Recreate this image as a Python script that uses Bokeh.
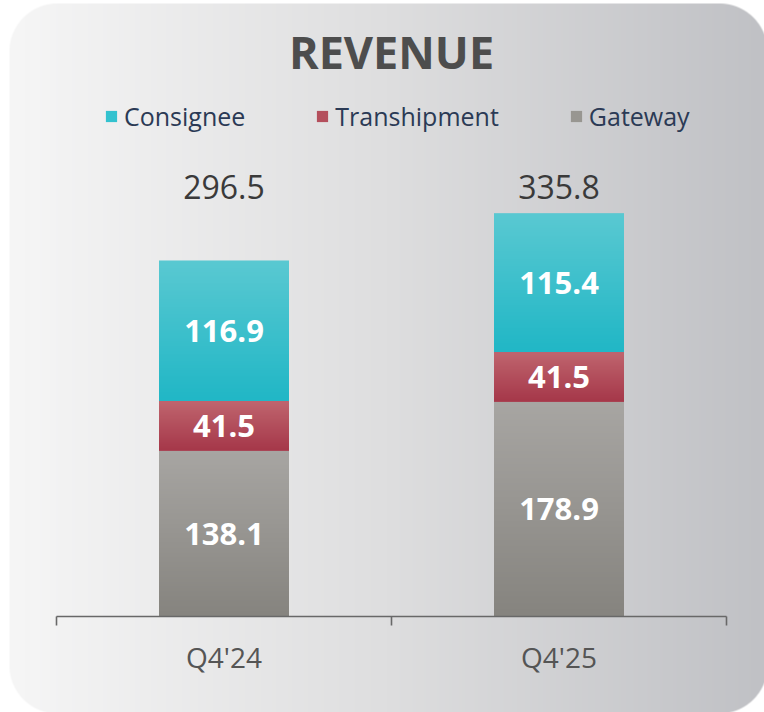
import numpy as np
from bokeh.plotting import figure
from bokeh.models import FixedTicker, Legend, LegendItem, Label, ColumnDataSource
from bokeh.core.properties import value
from bokeh.embed import file_html
from bokeh.resources import INLINE

# ---- data ----
categories = ["Q4'24", "Q4'25"]
gateway = [138.1, 178.9]
transhipment = [41.5, 41.5]
consignee = [116.9, 115.4]
totals = [296.5, 335.8]
series_names = ["Gateway", "Transhipment", "Consignee"]

# ---- styles ----
FONT = "Open Sans"
mid_colors = {"Gateway": "#989691", "Transhipment": "#b44f5c", "Consignee": "#33c2cf"}
grad_colors = {  # (top, bottom)
    "Gateway": ((168, 166, 163), (134, 132, 127)),
    "Transhipment": ((192, 102, 111), (166, 56, 74)),
    "Consignee": ((90, 201, 210), (33, 183, 198)),
}

W, H = 764, 712
AXIS_FROM_BOTTOM = 96
PX_X = 335.0
PX_Y = 1.2
X0, X1 = -56 / PX_X, len(categories) + (W - 56 - 335 * len(categories)) / PX_X
Y0, Y1 = -AXIS_FROM_BOTTOM / PX_Y, (H - AXIS_FROM_BOTTOM) / PX_Y
BAR_W = 130 / PX_X

p = figure(width=W, height=H, x_range=(X0, X1), y_range=(Y0, Y1),
           output_backend="svg", toolbar_location=None, min_border=0,
           y_axis_location=None, outline_line_color=None,
           background_fill_color="white", border_fill_color="white")
p.grid.visible = False

# ---- background (rounded, horizontal gradient) ----
R = 48.0
BL, BT, BR, BB = 9.0, 3.0, 767.0, 713.0   # box edges in pixels (from top-left)
yy, xx = np.mgrid[0:H, 0:W]
px = xx + 0.5
py_top = (H - 1 - yy) + 0.5
cx = np.clip(px, BL + R, BR - R)
cy = np.clip(py_top, BT + R, BB - R)
d = np.hypot(px - cx, py_top - cy)
alpha = np.clip(R - d + 0.5, 0, 1)
alpha = alpha * np.clip(px - BL + 0.5, 0, 1) * np.clip(py_top - BT + 0.5, 0, 1)
t = np.clip((px - BL) / (W - BL), 0, 1)
left = np.array([246, 246, 246], float)
midc = np.array([222, 222, 223], float)
right = np.array([192, 193, 197], float)
tt3 = t[..., None]
col = np.where(tt3 < 0.5, left + (midc - left) * (tt3 / 0.5),
               midc + (right - midc) * ((tt3 - 0.5) / 0.5))
col = col * alpha[..., None] + 255 * (1 - alpha[..., None])
bg = np.zeros((H, W), dtype=np.uint32)
v = bg.view(dtype=np.uint8).reshape((H, W, 4))
v[..., 0] = col[..., 0].astype(np.uint8)
v[..., 1] = col[..., 1].astype(np.uint8)
v[..., 2] = col[..., 2].astype(np.uint8)
v[..., 3] = 255
p.image_rgba(image=[bg], x=X0, y=Y0, dw=X1 - X0, dh=Y1 - Y0)

# ---- bars ----
xs = [i + 0.5 for i in range(len(categories))]
src = ColumnDataSource(dict(x=xs, Gateway=gateway, Transhipment=transhipment, Consignee=consignee))
rs = p.vbar_stack(series_names, x="x", width=BAR_W, source=src,
                  color=[mid_colors[s] for s in series_names], line_color=None)


def grad_img(top, bot, n=160):
    tt = np.linspace(0, 1, n)
    img = np.zeros((n, 1), dtype=np.uint32)
    vv = img.view(dtype=np.uint8).reshape((n, 1, 4))
    for k in range(3):
        vv[:, 0, k] = (bot[k] + (top[k] - bot[k]) * tt).astype(np.uint8)
    vv[:, 0, 3] = 255
    return img


series_vals = {"Gateway": gateway, "Transhipment": transhipment, "Consignee": consignee}
bottoms = [0.0] * len(categories)
label_x, label_y, label_t = [], [], []
for s in series_names:
    vals = series_vals[s]
    top, bot = grad_colors[s]
    img = grad_img(top, bot)
    p.image_rgba(image=[img] * len(vals), x=[x - BAR_W / 2 for x in xs], y=list(bottoms),
                 dw=[BAR_W] * len(vals), dh=list(vals))
    for i, val in enumerate(vals):
        label_x.append(xs[i])
        label_y.append(bottoms[i] + val / 2)
        label_t.append(f"{val:.1f}")
        bottoms[i] += val

p.text(x=label_x, y=label_y, text=label_t, text_color="white",
       text_font=value(FONT), text_font_style="bold", text_font_size=value("31px"),
       text_align="center", text_baseline="middle")

# totals
p.text(x=xs, y=[max(totals) + 22] * len(totals), text=[f"{t_:.1f}" for t_ in totals],
       text_color="#3a3a3a", text_font=value(FONT), text_font_size=value("32px"),
       text_align="center", text_baseline="middle")

# ---- axis ----
p.segment(x0=[0], y0=[0], x1=[len(categories)], y1=[0], line_color="#686868", line_width=1.6)
ax = p.xaxis[0]
ax.fixed_location = 0
ax.ticker = FixedTicker(ticks=xs, minor_ticks=list(range(len(categories) + 1)))
ax.major_label_overrides = {x: c for x, c in zip(xs, categories)}
ax.axis_line_alpha = 0
ax.major_tick_in = 0
ax.major_tick_out = 0
ax.minor_tick_in = 0
ax.minor_tick_out = 9
ax.minor_tick_line_color = "#686868"
ax.minor_tick_line_width = 1.6
ax.major_label_text_font = FONT
ax.major_label_text_font_size = "28px"
ax.major_label_text_color = "#555555"
ax.major_label_standoff = 12

# ---- legend ----
name_to_r = dict(zip(series_names, rs))
legend = Legend(items=[LegendItem(label=s, renderers=[name_to_r[s]]) for s in ["Consignee", "Transhipment", "Gateway"]],
                orientation="horizontal", location=(104, 579), spacing=70,
                glyph_width=14, glyph_height=14, label_standoff=6, padding=0, margin=0,
                border_line_alpha=0, background_fill_alpha=0,
                label_text_font=FONT, label_text_font_size="25px", label_text_color="#2b3a55")
p.add_layout(legend)

# ---- title ----
p.add_layout(Label(x=len(categories) / 2, y=661, x_units="data", y_units="screen",
                   text="REVENUE", text_font=FONT, text_font_style="bold", text_font_size="45px",
                   text_color="#4d4d4d", text_align="center", text_baseline="middle"))

open("out.html", "w").write(file_html(p, INLINE))
